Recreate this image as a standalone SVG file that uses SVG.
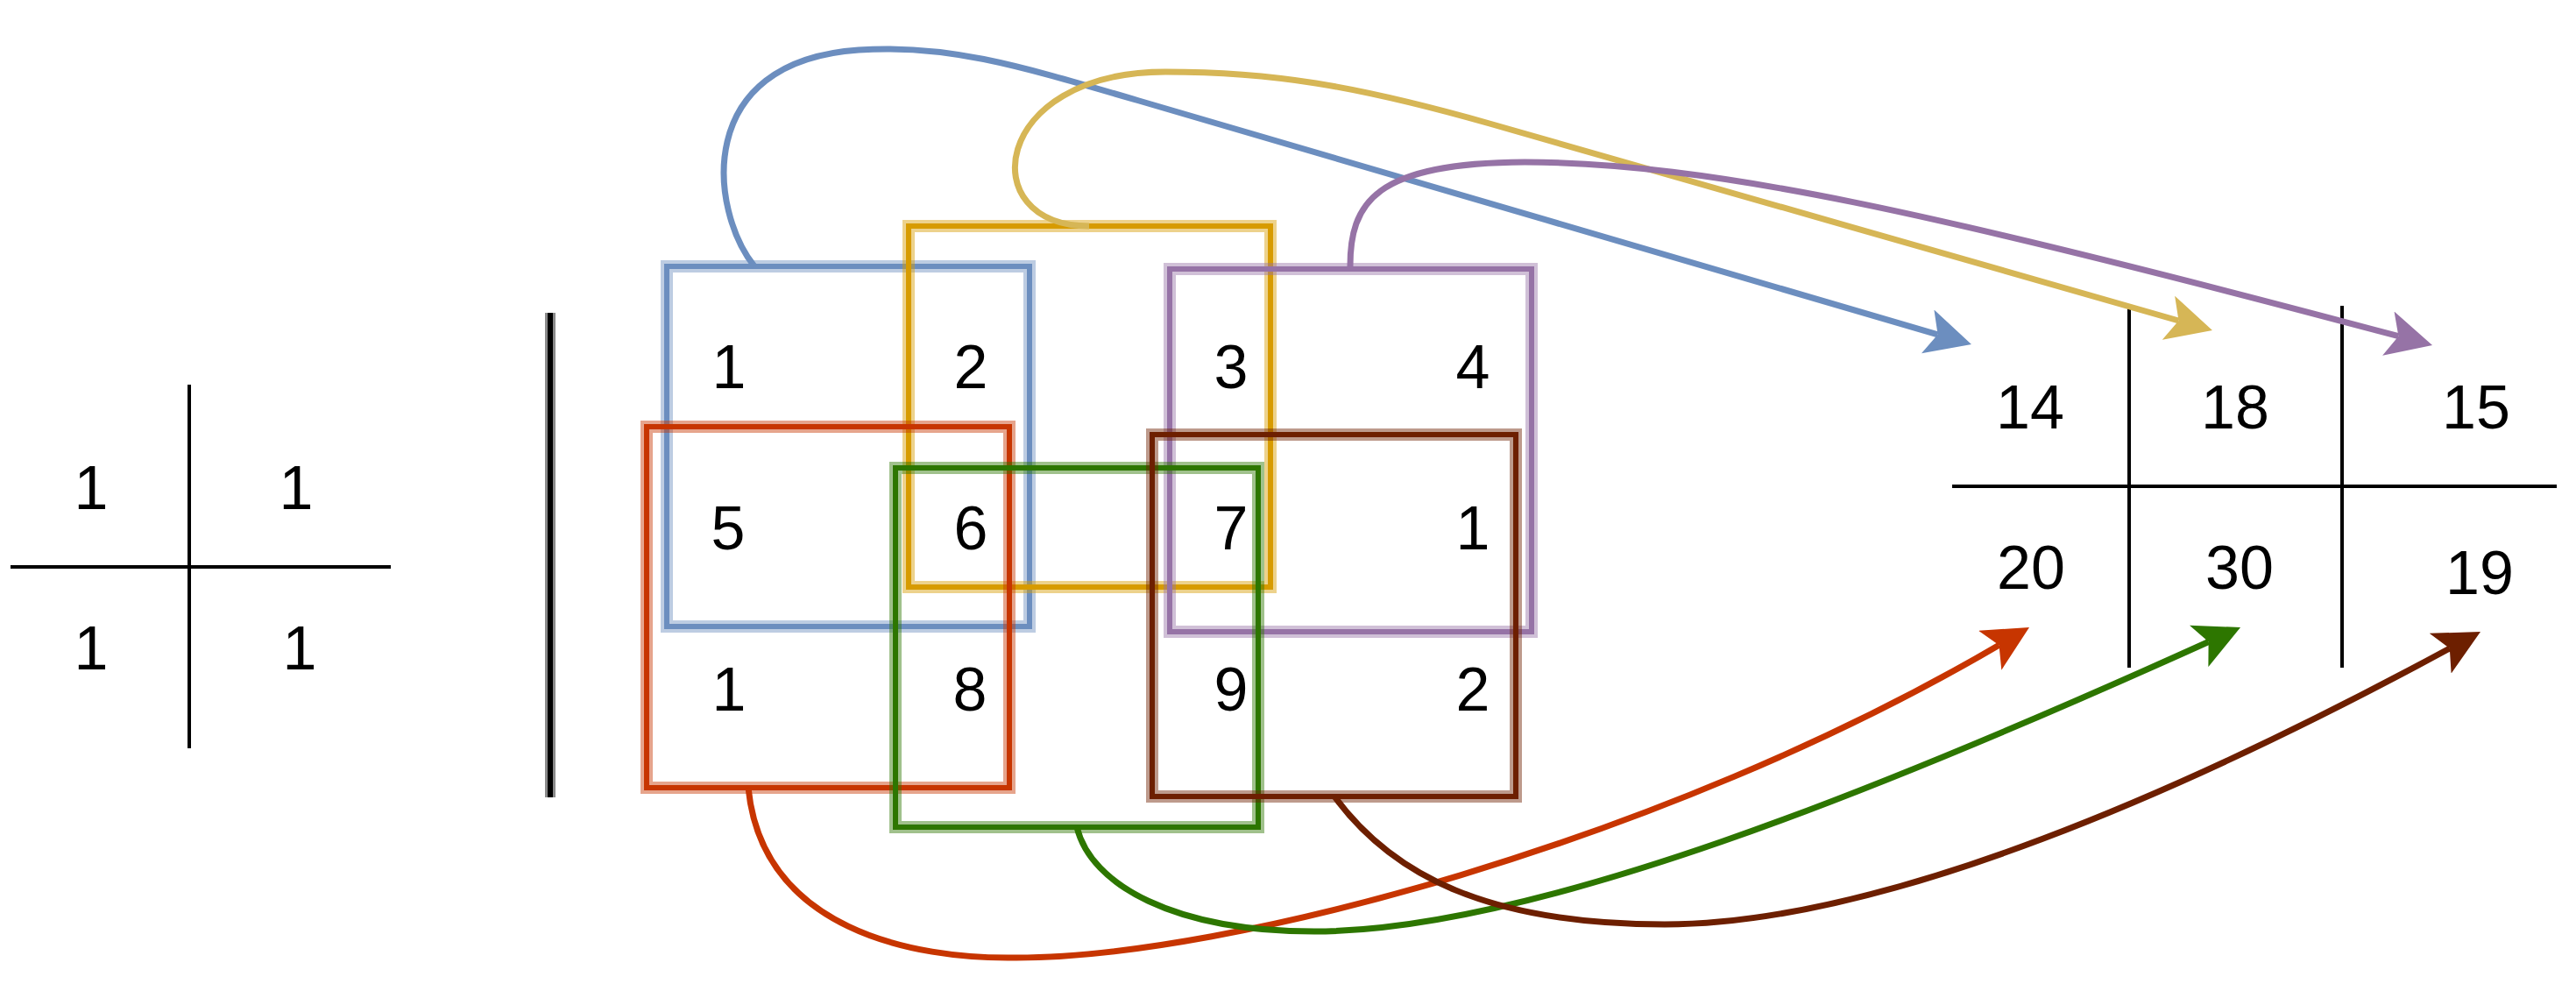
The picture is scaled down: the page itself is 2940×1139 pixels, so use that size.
<svg xmlns="http://www.w3.org/2000/svg" width="2940" height="1139" viewBox="0 0 2940 1139">
<style>
  text { font-family: "Liberation Sans", Arial, Helvetica, sans-serif; font-size: 70px; fill: #000; text-anchor: middle; }
  .grid { stroke: #000; stroke-width: 4; fill: none; }
  .barhalo { stroke: #8a8a8a; stroke-width: 12; fill: none; }
  .barcore { stroke: #000; stroke-width: 6; fill: none; }
  .halo { fill: none; stroke-width: 14; stroke-opacity: 0.45; }
  .core { fill: none; stroke-width: 6; }
  .edge { fill: none; stroke-width: 7; }
  .blue { stroke: #6c8ebf; }
  .gold { stroke: #d79b00; }
  .yel { stroke: #d6b656; }
  .purple { stroke: #9673a6; }
  .red { stroke: #c73500; }
  .green { stroke: #2d7600; }
  .brown { stroke: #6d1f00; }
</style>
<defs>
  <marker id="ah-blue" viewBox="0 0 52 52" refX="12" refY="26" markerWidth="52" markerHeight="52" markerUnits="userSpaceOnUse" orient="auto"><path d="M0,0 L52,26 L0,52 L12,26 Z" fill="#6c8ebf"/></marker>
  <marker id="ah-yel" viewBox="0 0 52 52" refX="12" refY="26" markerWidth="52" markerHeight="52" markerUnits="userSpaceOnUse" orient="auto"><path d="M0,0 L52,26 L0,52 L12,26 Z" fill="#d6b656"/></marker>
  <marker id="ah-purple" viewBox="0 0 52 52" refX="12" refY="26" markerWidth="52" markerHeight="52" markerUnits="userSpaceOnUse" orient="auto"><path d="M0,0 L52,26 L0,52 L12,26 Z" fill="#9673a6"/></marker>
  <marker id="ah-red" viewBox="0 0 52 52" refX="12" refY="26" markerWidth="52" markerHeight="52" markerUnits="userSpaceOnUse" orient="auto"><path d="M0,0 L52,26 L0,52 L12,26 Z" fill="#c73500"/></marker>
  <marker id="ah-green" viewBox="0 0 52 52" refX="12" refY="26" markerWidth="52" markerHeight="52" markerUnits="userSpaceOnUse" orient="auto"><path d="M0,0 L52,26 L0,52 L12,26 Z" fill="#2d7600"/></marker>
  <marker id="ah-brown" viewBox="0 0 52 52" refX="12" refY="26" markerWidth="52" markerHeight="52" markerUnits="userSpaceOnUse" orient="auto"><path d="M0,0 L52,26 L0,52 L12,26 Z" fill="#6d1f00"/></marker>
</defs>
<rect x="0" y="0" width="2940" height="1139" fill="#ffffff"/>

<g id="kernel">
  <line class="grid" x1="216" y1="439" x2="216" y2="854"/>
  <line class="grid" x1="12" y1="647" x2="446" y2="647"/>
  <text x="104" y="581">1</text>
  <text x="338" y="581">1</text>
  <text x="104" y="764">1</text>
  <text x="342" y="764">1</text>
</g>

<g id="separator">
  <line class="barhalo" x1="628" y1="357" x2="628" y2="910"/>
  <line class="barcore" x1="628" y1="357" x2="628" y2="910"/>
</g>

<g id="matrix">
  <text x="832" y="443">1</text>
  <text x="1108" y="443">2</text>
  <text x="1405" y="443">3</text>
  <text x="1681" y="443">4</text>
  <text x="831" y="627">5</text>
  <text x="1108" y="627">6</text>
  <text x="1405" y="627">7</text>
  <text x="1681" y="627">1</text>
  <text x="832" y="811">1</text>
  <text x="1107" y="811">8</text>
  <text x="1405" y="811">9</text>
  <text x="1681" y="811">2</text>
</g>

<g id="window-blue">
  <rect class="halo blue" x="761" y="304" width="414" height="411"/>
  <rect class="core blue" x="761" y="304" width="414" height="411"/>
</g>
<g id="window-yellow">
  <rect class="halo gold" x="1037" y="258" width="413" height="412"/>
  <rect class="core gold" x="1037" y="258" width="413" height="412"/>
</g>
<g id="window-purple">
  <rect class="halo purple" x="1335" y="307" width="413" height="414"/>
  <rect class="core purple" x="1335" y="307" width="413" height="414"/>
</g>
<g id="window-red">
  <rect class="halo red" x="738" y="487" width="414" height="412"/>
  <rect class="core red" x="738" y="487" width="414" height="412"/>
</g>
<g id="window-green">
  <rect class="halo green" x="1022" y="534" width="414" height="410"/>
  <rect class="core green" x="1022" y="534" width="414" height="410"/>
</g>
<g id="window-brown">
  <rect class="halo brown" x="1315" y="496" width="415" height="413"/>
  <rect class="core brown" x="1315" y="496" width="415" height="413"/>
</g>

<g id="result">
  <line class="grid" x1="2430" y1="351" x2="2430" y2="762"/>
  <line class="grid" x1="2673" y1="349" x2="2673" y2="762"/>
  <line class="grid" x1="2228" y1="555" x2="2918" y2="555"/>
  <text x="2317" y="489">14</text>
  <text x="2551" y="489">18</text>
  <text x="2826" y="489">15</text>
  <text x="2318" y="672">20</text>
  <text x="2556" y="672">30</text>
  <text x="2830" y="678">19</text>
</g>

<g id="connectors">
  <path class="edge blue" marker-end="url(#ah-blue)" d="M 861 304 C 810 240, 790 70, 980 57 C 1080 50, 1160 74, 1300 115 L 2211.6 381.8"/>
  <path class="edge yel" marker-end="url(#ah-yel)" d="M 1243 258 C 1110 258, 1130 82, 1330 82 C 1450 82, 1545 97, 1700 141 L 2486.5 366"/>
  <path class="edge purple" marker-end="url(#ah-purple)" d="M 1541 307 C 1540 230, 1570 186, 1740 185 C 1950 186, 2200 240, 2737.4 383.7"/>
  <path class="edge red" marker-end="url(#ah-red)" d="M 854 899 C 870 1060, 1040 1095, 1160 1093 C 1400 1093, 1900 960, 2281.5 736.2"/>
  <path class="edge green" marker-end="url(#ah-green)" d="M 1229 944 C 1245 1010, 1340 1063, 1500 1063 C 1750 1063, 2150 900, 2520.6 732.5"/>
  <path class="edge brown" marker-end="url(#ah-brown)" d="M 1523 909 C 1590 1000, 1700 1055, 1900 1055 C 2150 1055, 2500 900, 2795.8 740"/>
</g>
</svg>
